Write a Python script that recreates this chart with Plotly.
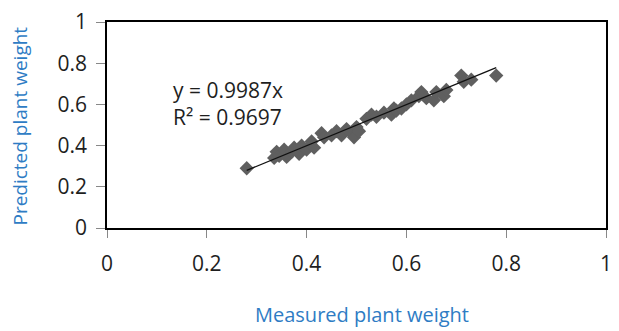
import plotly.graph_objects as go

# Measured vs. predicted plant weight
measured = [0.28, 0.335, 0.34, 0.345, 0.355, 0.36, 0.37, 0.375, 0.385, 0.39, 0.40, 0.41, 0.415,
            0.43, 0.435, 0.45, 0.46, 0.47, 0.48, 0.49, 0.495, 0.50, 0.505,
            0.52, 0.53, 0.54, 0.555, 0.57, 0.575, 0.58, 0.59, 0.60, 0.61, 0.625, 0.63, 0.64,
            0.655, 0.66, 0.675, 0.68, 0.71, 0.715, 0.73, 0.78]
predicted = [0.29, 0.34, 0.37, 0.35, 0.38, 0.345, 0.37, 0.39, 0.36, 0.40, 0.38, 0.42, 0.39,
             0.46, 0.44, 0.45, 0.47, 0.45, 0.48, 0.46, 0.44, 0.49, 0.47,
             0.53, 0.55, 0.54, 0.56, 0.55, 0.58, 0.57, 0.58, 0.60, 0.62, 0.64, 0.66, 0.63,
             0.62, 0.66, 0.64, 0.67, 0.74, 0.71, 0.72, 0.74]

slope = 0.9987
r_squared = 0.9697
tick_vals = [0, 0.2, 0.4, 0.6, 0.8, 1]
tick_text = ["0", "0.2", "0.4", "0.6", "0.8", "1"]

# trend line through the origin, drawn over the measured range
x_fit = [min(measured), max(measured)]
y_fit = [slope * v for v in x_fit]

FONT = "Open Sans"
BLUE = "#2E7CC4"
TEXT = "#1e1e1e"

# plot area in pixels (left, right, top, bottom)
PL, PR, PT, PB = 107, 612, 21, 228
W, H = 619, 331


def px_to_paper(px, py):
    return (px - PL) / (PR - PL), (PB - py) / (PB - PT)


fig = go.Figure()
fig.add_trace(go.Scatter(
    x=measured, y=predicted, mode="markers",
    marker=dict(symbol="diamond", size=11, color="#5f5f5f"),
    showlegend=False,
))
fig.add_trace(go.Scatter(
    x=x_fit, y=y_fit, mode="lines",
    line=dict(color="#111111", width=1.3),
    showlegend=False,
))

xt_x, xt_y = px_to_paper(365, 315)
yt_x, yt_y = px_to_paper(19, 126)

fig.update_layout(
    width=W, height=H,
    margin=dict(l=PL, r=W - PR, t=PT, b=H - PB),
    plot_bgcolor="white", paper_bgcolor="white",
    font=dict(family=FONT, size=21, color=TEXT),
    annotations=[
        dict(x=xt_x, y=xt_y, xref="paper", yref="paper",
             xanchor="center", yanchor="middle",
             showarrow=False, text="Measured plant weight",
             font=dict(family=FONT, size=20, color=BLUE)),
        dict(x=yt_x, y=yt_y, xref="paper", yref="paper",
             xanchor="center", yanchor="middle",
             showarrow=False, text="Predicted plant weight", textangle=-90,
             font=dict(family=FONT, size=19, color=BLUE)),
        dict(x=0.128, y=0.605, xref="x", yref="y", xanchor="left", yanchor="middle",
             text=f"y = {slope}x<br>R² = {r_squared}", showarrow=False, align="left",
             font=dict(family=FONT, size=21, color=TEXT)),
    ],
)
fig.update_xaxes(
    range=[0, 1], tickvals=tick_vals, ticktext=tick_text,
    showgrid=False, zeroline=False,
    showline=True, linecolor="#000000", linewidth=1.5, mirror=True,
    ticks="outside", ticklen=8, tickcolor="#888888", ticklabelstandoff=8,
    tickfont=dict(family=FONT, size=21, color=TEXT),
)
fig.update_yaxes(
    range=[0, 1], tickvals=tick_vals, ticktext=tick_text,
    showgrid=False, zeroline=False,
    showline=True, linecolor="#000000", linewidth=1.5, mirror=True,
    ticks="outside", ticklen=9, tickcolor="#888888", ticklabelstandoff=5,
    tickfont=dict(family=FONT, size=21, color=TEXT),
)

fig.write_html("out.html")
